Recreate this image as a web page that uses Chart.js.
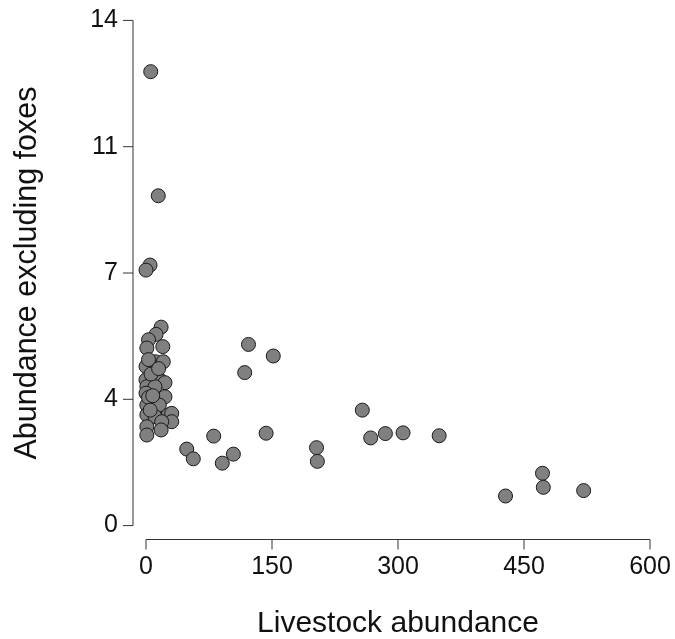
<!DOCTYPE html>
<html>
<head>
<meta charset="utf-8">
<script src="https://cdn.jsdelivr.net/npm/chart.js@4.4.1/dist/chart.umd.min.js"></script>
<style>
    body { margin: 0; background: #ffffff; }
    #wrap { width: 675px; height: 639px; }
</style>
</head>
<body>
<div id="wrap"><canvas id="myChart"></canvas></div>
<script>
// livestock abundance (x) and abundance excluding foxes (y)
const livestock = [
    18, 12, 3, 1, 20, 0, 11.5, 20.6, 0, 14.6, 18.7, 22.6, 1, 10.7, 0, 22.6,
    1, 12.7, 15.8, 1, 10.7, 26.5, 30.6, 30.6, 18.7, 1, 18, 1,
    3, 6, 3, 8, 15, 5,
    5.6, 14.6, 4.8, 0,
    122, 151.5, 117.5, 80.6, 143, 48.5, 56.3, 104, 90.8, 203, 204,
    257.5, 267.5, 285, 306, 349, 428, 472, 473, 521
];
const abundance = [
    5.5, 5.3, 5.15, 4.92, 4.96, 4.41, 4.54, 4.54, 4.04, 4.08, 3.99, 3.96, 3.85, 3.85, 3.67, 3.57,
    3.34, 3.25, 3.34, 3.07, 3.02, 3.07, 3.11, 2.88, 2.88, 2.74, 2.65, 2.51,
    4.6, 4.2, 3.55, 3.6, 4.35, 3.2,
    12.58, 9.14, 7.22, 7.08,
    5.02, 4.70, 4.24, 2.48, 2.56, 2.12, 1.85, 1.98, 1.73, 2.16, 1.78,
    3.20, 2.43, 2.55, 2.57, 2.49, 0.82, 1.45, 1.06, 0.97
];
const xTicks = [0, 150, 300, 450, 600];
const yTicks = [0, 3.5, 7, 10.5, 14];

const points = livestock.map((x, i) => ({ x: x, y: abundance[i] }));

// R style axes: detached lines with outward ticks
const detachedAxes = {
    id: 'detachedAxes',
    afterDraw(chart) {
        const ctx = chart.ctx;
        const xs = chart.scales.x;
        const ys = chart.scales.y;
        const axisX = 133;   // vertical axis line
        const axisY = 539.5; // horizontal axis line
        const tick = 10;
        ctx.save();
        ctx.strokeStyle = '#333333';
        ctx.lineWidth = 1;
        ctx.beginPath();
        ctx.moveTo(axisX, ys.getPixelForValue(14));
        ctx.lineTo(axisX, ys.getPixelForValue(0));
        yTicks.forEach(function (v) {
            const py = ys.getPixelForValue(v);
            ctx.moveTo(axisX, py);
            ctx.lineTo(axisX - tick, py);
        });
        ctx.moveTo(xs.getPixelForValue(0), axisY);
        ctx.lineTo(xs.getPixelForValue(600), axisY);
        xTicks.forEach(function (v) {
            const px = xs.getPixelForValue(v);
            ctx.moveTo(px, axisY);
            ctx.lineTo(px, axisY + tick);
        });
        ctx.stroke();
        ctx.restore();
    }
};

const scatterOptions = {
    responsive: true,
    maintainAspectRatio: false,
    animation: false,
    layout: {
        padding: { left: 0, right: 25, top: 20.4, bottom: 0 }
    },
    plugins: {
        legend: { display: false },
        tooltip: { enabled: false }
    },
    scales: {
        x: {
            type: 'linear',
            min: 0,
            max: 600,
            afterBuildTicks: function (scale) {
                scale.ticks = xTicks.map(v => ({ value: v }));
            },
            afterFit: function (scale) {
                scale.height = 639 - 525.6;
            },
            // tickLength only spaces the labels, the marks themselves come from the plugin
            grid: { display: false, drawTicks: true, tickLength: 27 },
            border: { display: false },
            ticks: {
                padding: 0,
                color: '#111111',
                font: { family: 'Liberation Sans, Arial, sans-serif', size: 25 },
                maxRotation: 0
            },
            title: {
                display: true,
                text: 'Livestock abundance',
                color: '#111111',
                padding: 0,
                font: { family: 'Liberation Sans, Arial, sans-serif', size: 30, lineHeight: 1 }
            }
        },
        y: {
            type: 'linear',
            min: 0,
            max: 14,
            afterBuildTicks: function (scale) {
                scale.ticks = yTicks.map(v => ({ value: v }));
            },
            afterFit: function (scale) {
                scale.width = 146;
            },
            grid: { display: false, drawTicks: true, tickLength: 28 },
            border: { display: false },
            ticks: {
                padding: 0,
                color: '#111111',
                font: { family: 'Liberation Sans, Arial, sans-serif', size: 25 },
                callback: function (val) {
                    return Math.round(val);
                }
            },
            title: {
                display: true,
                text: 'Abundance excluding foxes',
                color: '#111111',
                padding: { top: 12, bottom: 0 },
                font: { family: 'Liberation Sans, Arial, sans-serif', size: 30.5, lineHeight: 1 }
            }
        }
    }
};

const ctx = document.getElementById('myChart');
const myChart = new Chart(ctx, {
    type: 'scatter',
    data: {
        datasets: [{
            label: 'sites',
            data: points,
            clip: false,
            pointRadius: 7,
            pointHoverRadius: 7,
            pointBackgroundColor: '#808080',
            pointBorderColor: '#1a1a1a',
            pointBorderWidth: 1
        }]
    },
    options: scatterOptions,
    plugins: [detachedAxes]
});
</script>
</body>
</html>
